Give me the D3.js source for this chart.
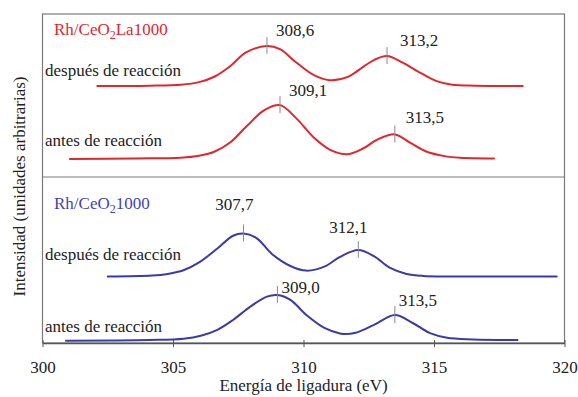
<!DOCTYPE html>
<html>
<head>
<meta charset="utf-8">
<script src="https://cdn.jsdelivr.net/npm/d3@7"></script>
<style>
  html, body { margin: 0; padding: 0; background: #fff; }
  svg { display: block; }
</style>
</head>
<body>
<svg id="chart" width="578" height="397"></svg>
<script>
// ---------------- data ----------------
const xTicks = [300, 305, 310, 315, 320];
const xTitle = "Energía de ligadura (eV)";
const yTitle = "Intensidad (unidades arbitrarias)";
const panelTitles = ["Rh/CeO|2|La1000", "Rh/CeO|2|1000"];
const curveNames = ["después de reacción", "antes de reacción", "después de reacción", "antes de reacción"];

// energy (eV) samples, per curve
const energyLaDespues = [302.1,304.1,305.3,306.0,306.6,307.2,307.8,308.6,309.1,309.7,310.4,311.0,311.7,312.3,312.7,313.2,313.8,314.5,315.1,315.7,316.6,318.4];
const intensityLaDespues = [78.1,78.2,78.5,79.3,81.0,84.2,88.3,90.3,89.3,85.4,81.4,79.9,80.9,84.0,86.0,87.2,85.2,82.0,79.6,78.5,78.2,78.1];

const energyLaAntes = [301.05,303.5,305.3,306.0,306.6,307.2,307.8,308.5,309.1,309.7,310.4,311.0,311.7,312.3,312.8,313.5,314.1,314.7,315.4,316.0,317.3];
const intensityLaAntes = [55.9,56.1,56.3,56.9,58.2,61.0,65.7,70.8,72.3,68.5,62.4,58.8,57.4,59.2,61.7,63.4,60.8,58.2,56.8,56.3,56.1];

const energyCeDespues = [302.5,304.2,304.8,305.4,306.0,306.7,307.3,307.7,308.2,308.8,309.5,310.1,310.8,311.4,312.1,312.7,313.3,313.95,314.6,316.5,319.7];
const intensityCeDespues = [20.2,20.5,21.0,22.1,24.5,28.7,32.6,33.3,31.9,27.0,23.4,22.0,23.2,26.2,28.3,26.4,22.9,21.0,20.4,20.2,20.2];

const energyCeAntes = [300.9,304.1,305.4,306.1,306.7,307.3,307.95,308.6,309.0,309.5,310.1,310.8,311.4,311.6,312.0,312.7,313.5,314.2,314.85,315.5,316.5,318.2];
const intensityCeAntes = [0.7,0.9,1.3,2.3,4.0,7.0,11.0,14.1,14.6,13.1,8.6,4.6,2.9,2.7,3.1,5.5,8.5,6.0,3.0,1.6,1.1,0.9];

// peak energies and labels
const peakEnergies = [[308.6, 313.2], [309.1, 313.5], [307.7, 312.1], [309.0, 313.5]];
const peakLabels = [["308,6", "313,2"], ["309,1", "313,5"], ["307,7", "312,1"], ["309,0", "313,5"]];

// ---------------- layout / style ----------------
const FONT = '"Liberation Serif", Tinos, "Times New Roman", "DejaVu Serif", serif';
const plot = { left: 42.5, right: 564.5, top: 14, bottom: 343, divider: 177 };
const colors = ["#e3262b", "#e3262b", "#3b3ba8", "#3b3ba8"];
const titleColors = ["#e3262b", "#4343b3"];
// label offsets (px) relative to peak point: [dx, dy, anchor]
const labelLayout = [
  [[9, -10, "start"], [13, -10, "start"]],
  [[9, -9, "start"], [11, -11, "start"]],
  [[-9, -23, "middle"], [-10, -17, "middle"]],
  [[4, -2, "start"], [4, -9, "start"]]
];
const nameBaselines = [76, 146, 260, 332];
const titleBaselines = [35, 209];

const series = [
  { e: energyLaDespues, v: intensityLaDespues },
  { e: energyLaAntes, v: intensityLaAntes },
  { e: energyCeDespues, v: intensityCeDespues },
  { e: energyCeAntes, v: intensityCeAntes }
];

const svg = d3.select("#chart");
const x = d3.scaleLinear().domain([300, 320]).range([plot.left, plot.right]);
const y = d3.scaleLinear().domain([0, 100]).range([plot.bottom, plot.top]);

const txt = (sel) => sel.attr("font-family", FONT).style("font-family", FONT).attr("fill", "#222");

// frame
const frame = svg.append("g").attr("stroke", "#7a7a7a").attr("stroke-width", 1.2).attr("fill", "none");
frame.append("rect").attr("x", plot.left).attr("y", plot.top)
  .attr("width", plot.right - plot.left).attr("height", plot.bottom - plot.top);
frame.append("line").attr("x1", plot.left).attr("x2", plot.right)
  .attr("y1", plot.divider).attr("y2", plot.divider);

// x axis
const xAxis = d3.axisBottom(x).tickValues(xTicks).tickSizeInner(4).tickSizeOuter(0).tickPadding(14)
  .tickFormat(d3.format("d"));
const gx = svg.append("g").attr("transform", `translate(0,${plot.bottom})`).call(xAxis);
gx.attr("font-family", FONT).attr("font-size", 17);
gx.select(".domain").attr("stroke", "#555").attr("stroke-width", 1.5);
gx.selectAll(".tick line").attr("stroke", "#555").attr("y1", -3).attr("y2", 4);
gx.selectAll(".tick text").call(txt).attr("font-size", 17);

svg.append("text").call(txt).attr("x", (plot.left + plot.right) / 2).attr("y", 391)
  .attr("text-anchor", "middle").attr("font-size", 17).text(xTitle);

svg.append("text").call(txt).attr("transform", `translate(25,${(plot.top + plot.bottom) / 2 + 8}) rotate(-90)`)
  .attr("text-anchor", "middle").attr("font-size", 17).text(yTitle);

// panel titles with subscript
panelTitles.forEach((t, i) => {
  const parts = t.split("|");
  const tx = svg.append("text").call(txt).attr("x", 54).attr("y", titleBaselines[i])
    .attr("font-size", 17).attr("fill", titleColors[i]);
  tx.append("tspan").text(parts[0]);
  tx.append("tspan").attr("font-size", 12).attr("dy", 4).text(parts[1]);
  tx.append("tspan").attr("dy", -4).text(parts[2]);
});

// curve names
curveNames.forEach((n, i) => {
  svg.append("text").call(txt).attr("x", 45).attr("y", nameBaselines[i]).attr("font-size", 17).text(n);
});

// curves
const line = d3.line().x(d => x(d[0])).y(d => y(d[1])).curve(d3.curveCatmullRom.alpha(0.5));
series.forEach((s, i) => {
  const pts = s.e.map((e, k) => [e, s.v[k]]);
  svg.append("path").datum(pts).attr("d", line)
    .attr("fill", "none").attr("stroke", colors[i]).attr("stroke-width", 2)
    .attr("stroke-linejoin", "round").attr("stroke-linecap", "round");
});

// peak markers and labels
series.forEach((s, i) => {
  const nearest = e => {
    let best = 0;
    s.e.forEach((v, k) => { if (Math.abs(v - e) < Math.abs(s.e[best] - e)) best = k; });
    return s.v[best];
  };
  peakEnergies[i].forEach((pe, j) => {
    const px = x(pe), py = y(nearest(pe));
    svg.append("line").attr("x1", px).attr("x2", px).attr("y1", py - 9).attr("y2", py + 8)
      .attr("stroke", "#8a8a8a").attr("stroke-width", 1);
    const [dx, dy, anchor] = labelLayout[i][j];
    svg.append("text").call(txt).attr("x", px + dx).attr("y", py + dy).attr("text-anchor", anchor)
      .attr("font-size", 17).text(peakLabels[i][j]);
  });
});
</script>
</body>
</html>
